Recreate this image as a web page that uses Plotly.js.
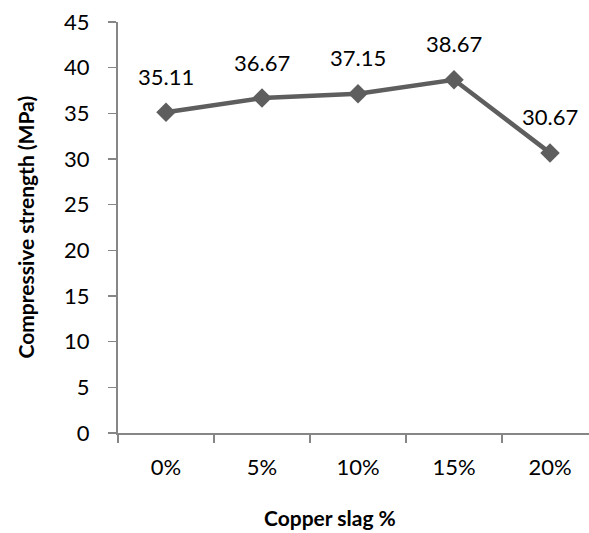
<!DOCTYPE html>
<html><head><meta charset="utf-8">
<script src="https://cdn.plot.ly/plotly-3.0.1.min.js"></script>
<style>html,body{margin:0;padding:0;background:#fff}</style>
</head><body><div id="chart" style="width:589px;height:533px"></div>
<script>
const categories = ["0%", "5%", "10%", "15%", "20%"];
const strength = [35.11, 36.67, 37.15, 38.67, 30.67];
const labels = ["35.11", "36.67", "37.15", "38.67", "30.67"];
const yTicks = [0, 5, 10, 15, 20, 25, 30, 35, 40, 45];

const FONT = "Lato, 'Open Sans', sans-serif";
const lineColor = "#5e5e5e";
const axisColor = "#868686";

const trace = {
  x: categories, y: strength, type: "scatter", mode: "lines+markers",
  line: {color: lineColor, width: 4.5},
  marker: {symbol: "diamond", size: 15, color: lineColor},
  hoverinfo: "skip", cliponaxis: false
};

const annotations = categories.map((c, i) => ({
  x: c, y: strength[i], xref: "x", yref: "y", text: labels[i],
  showarrow: false, yshift: 36, font: {family: FONT, size: 22, color: "#000"}
}));
annotations.push({
  xref: "paper", yref: "paper", x: (330 - 118) / 471, y: (433 - 517) / 411, yanchor: "middle", xanchor: "center",
  text: "<b>Copper slag %</b>", showarrow: false,
  font: {family: FONT, size: 21, color: "#000"}
});
annotations.push({
  xref: "paper", yref: "paper", x: (25 - 118) / 471, y: 0.5, yanchor: "middle", xanchor: "center",
  text: "<b>Compressive strength (MPa)</b>", showarrow: false, textangle: -90,
  font: {family: FONT, size: 21, color: "#000"}
});

const layout = {
  width: 589, height: 533,
  margin: {l: 118, r: 0, t: 22, b: 100},
  paper_bgcolor: "#fff", plot_bgcolor: "#fff",
  showlegend: false,
  font: {family: FONT, size: 22, color: "#000"},
  xaxis: {
    type: "category", range: [-0.5, 4.406], tickson: "boundaries",
    showline: true, linecolor: axisColor, linewidth: 2,
    ticks: "outside", ticklen: 8, tickcolor: axisColor, tickwidth: 1.5,
    showgrid: false, zeroline: false, ticklabelstandoff: 14,
    tickfont: {family: FONT, size: 22, color: "#000"}
  },
  yaxis: {
    range: [0, 45], tickvals: yTicks, ticktext: yTicks.map(String),
    showline: true, linecolor: axisColor, linewidth: 2,
    ticks: "outside", ticklen: 8, tickcolor: axisColor, tickwidth: 1.5,
    showgrid: false, zeroline: false, ticklabelstandoff: 14,
    tickfont: {family: FONT, size: 22, color: "#000"}
  },
  annotations: annotations
};

Plotly.newPlot("chart", [trace], layout, {displayModeBar: false, staticPlot: true});
</script></body></html>
